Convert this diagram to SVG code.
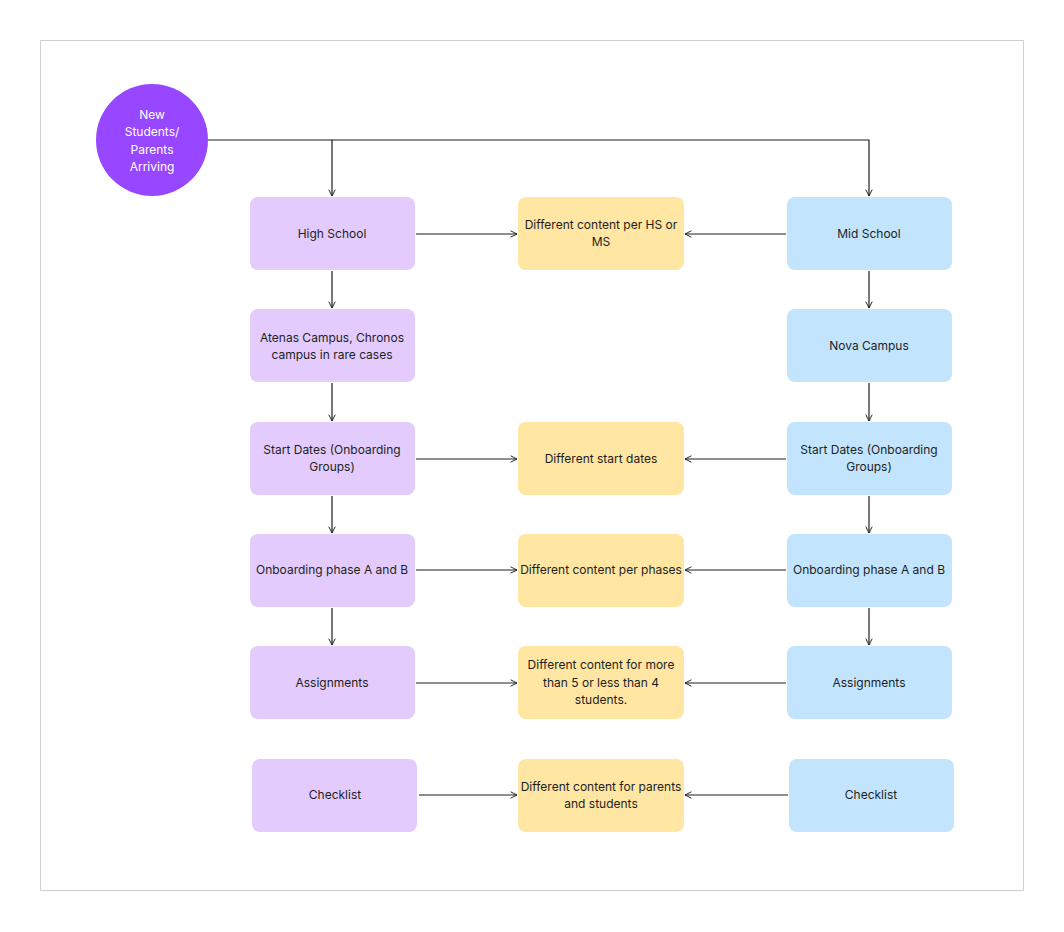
<svg xmlns="http://www.w3.org/2000/svg" width="1064" height="932" viewBox="0 0 1064 932">
<style>
text{font-family:Inter,"Liberation Sans",sans-serif;font-size:12px;fill:#1e1e1e;text-anchor:middle}
.hs{fill:#e3ccfd}.ms{fill:#c2e5fd}.mid{fill:#ffe6a3}
.c{fill:none;stroke:#1e1e1e;stroke-width:1.2}
</style>
<defs><marker id="a" viewBox="0 0 10 10" refX="9" refY="5" markerWidth="8" markerHeight="8" orient="auto" markerUnits="userSpaceOnUse"><path d="M1,1 L9,5 L1,9" fill="none" stroke="#1e1e1e" stroke-width="1.2"/></marker></defs>
<rect x="40.5" y="40.5" width="983" height="850" fill="#fff" stroke="#d0d0d0"/>
<g id="connectors" class="c" marker-end="url(#a)">
<path d="M208,140 H332 V196"/><path d="M332,140 H869 V196"/>
<path d="M416,234 H517"/><path d="M786,234 H685"/>
<path d="M332,271 V308"/><path d="M869,271 V308"/>
<path d="M332,383 V421"/><path d="M869,383 V421"/>
<path d="M416,459 H517"/><path d="M786,459 H685"/>
<path d="M332,496 V533"/><path d="M869,496 V533"/>
<path d="M416,570 H517"/><path d="M786,570 H685"/>
<path d="M332,608 V645"/><path d="M869,608 V645"/>
<path d="M416,683 H517"/><path d="M786,683 H685"/>
<path d="M419,795 H517"/><path d="M788,795 H685"/>
</g>
<g id="start"><circle cx="152" cy="140" r="56" fill="#9747ff"/><text x="152" y="119" style="fill:#fff">New</text><text x="152" y="136" style="fill:#fff">Students/</text><text x="152" y="154" style="fill:#fff">Parents</text><text x="152" y="171" style="fill:#fff">Arriving</text></g>
<g id="hs1"><rect class="hs" x="250" y="197" width="165" height="73" rx="8"/><text x="332" y="238">High School</text></g>
<g id="hs2"><rect class="hs" x="250" y="309" width="165" height="73" rx="8"/><text x="332" y="342">Atenas Campus, Chronos</text><text x="332" y="359">campus in rare cases</text></g>
<g id="hs3"><rect class="hs" x="250" y="422" width="165" height="73" rx="8"/><text x="332" y="454">Start Dates (Onboarding</text><text x="332" y="471">Groups)</text></g>
<g id="hs4"><rect class="hs" x="250" y="534" width="165" height="73" rx="8"/><text x="332" y="574">Onboarding phase A and B</text></g>
<g id="hs5"><rect class="hs" x="250" y="646" width="165" height="73" rx="8"/><text x="332" y="687">Assignments</text></g>
<g id="hs6"><rect class="hs" x="252" y="759" width="165" height="73" rx="8"/><text x="335" y="799">Checklist</text></g>
<g id="m1"><rect class="mid" x="518" y="197" width="166" height="73" rx="8"/><text x="601" y="229">Different content per HS or</text><text x="601" y="246">MS</text></g>
<g id="m2"><rect class="mid" x="518" y="422" width="166" height="73" rx="8"/><text x="601" y="463">Different start dates</text></g>
<g id="m3"><rect class="mid" x="518" y="534" width="166" height="73" rx="8"/><text x="601" y="574">Different content per phases</text></g>
<g id="m4"><rect class="mid" x="518" y="646" width="166" height="73" rx="8"/><text x="601" y="669">Different content for more</text><text x="601" y="687">than 5 or less than 4</text><text x="601" y="704">students.</text></g>
<g id="m5"><rect class="mid" x="518" y="759" width="166" height="73" rx="8"/><text x="601" y="791">Different content for parents</text><text x="601" y="808">and students</text></g>
<g id="ms1"><rect class="ms" x="787" y="197" width="165" height="73" rx="8"/><text x="869" y="238">Mid School</text></g>
<g id="ms2"><rect class="ms" x="787" y="309" width="165" height="73" rx="8"/><text x="869" y="350">Nova Campus</text></g>
<g id="ms3"><rect class="ms" x="787" y="422" width="165" height="73" rx="8"/><text x="869" y="454">Start Dates (Onboarding</text><text x="869" y="471">Groups)</text></g>
<g id="ms4"><rect class="ms" x="787" y="534" width="165" height="73" rx="8"/><text x="869" y="574">Onboarding phase A and B</text></g>
<g id="ms5"><rect class="ms" x="787" y="646" width="165" height="73" rx="8"/><text x="869" y="687">Assignments</text></g>
<g id="ms6"><rect class="ms" x="789" y="759" width="165" height="73" rx="8"/><text x="871" y="799">Checklist</text></g>
</svg>
